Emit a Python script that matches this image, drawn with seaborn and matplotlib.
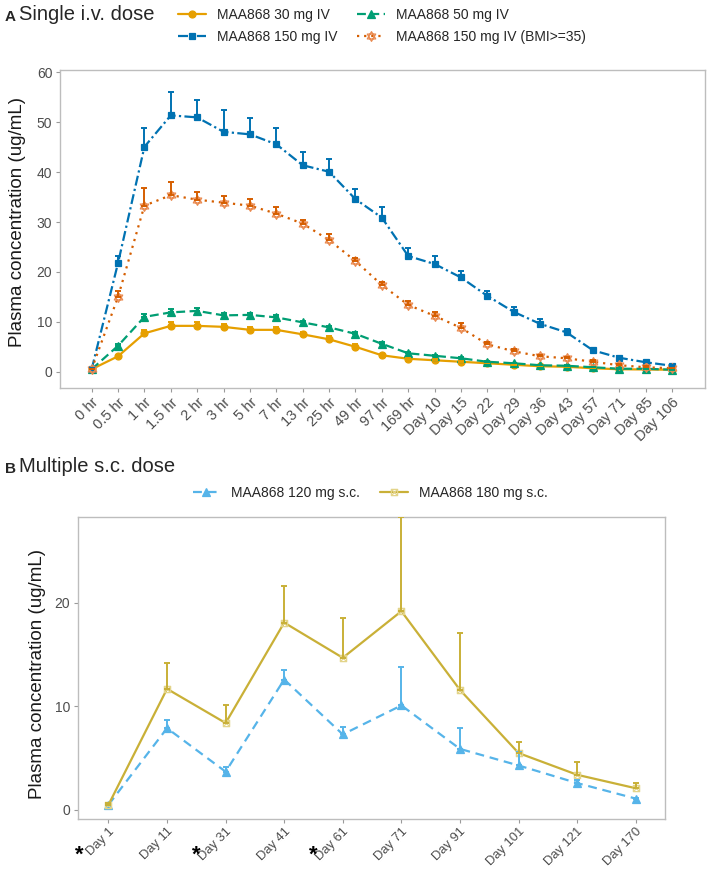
import numpy as np
import pandas as pd
import matplotlib
matplotlib.use("Agg")
import matplotlib.pyplot as plt
from matplotlib.path import Path
from matplotlib.lines import Line2D
import seaborn as sns

# ---- data: panel A (single i.v. dose) ----
times_a = ['0 hr', '0.5 hr', '1 hr', '1.5 hr', '2 hr', '3 hr', '5 hr', '7 hr',
           '13 hr', '25 hr', '49 hr', '97 hr', '169 hr', 'Day 10', 'Day 15',
           'Day 22', 'Day 29', 'Day 36', 'Day 43', 'Day 57', 'Day 71',
           'Day 85', 'Day 106']
iv30_mean = [0.5, 3.1, 7.7, 9.2, 9.2, 9.0, 8.4, 8.4, 7.5, 6.5, 5.0, 3.3, 2.6,
             2.3, 2.0, 1.7, 1.4, 1.1, 1.0, 0.7, 0.5, 0.45, 0.4]
iv30_sd = [0.1, 0.3, 0.7, 0.7, 0.7, 0.6, 0.6, 0.6, 0.5, 0.6, 0.5, 0.3, 0.2,
           0.2, 0.2, 0.2, 0.1, 0.1, 0.1, 0.1, 0.1, 0.1, 0.1]
iv50_mean = [0.5, 5.2, 11.0, 11.9, 12.2, 11.3, 11.4, 10.9, 9.9, 8.9, 7.6, 5.6,
             3.7, 3.2, 2.7, 2.0, 1.7, 1.3, 1.2, 0.9, 0.6, 0.6, 0.4]
iv50_sd = [0.1, 0.4, 0.6, 0.6, 0.5, 0.5, 0.4, 0.4, 0.3, 0.3, 0.3, 0.3, 0.2,
           0.2, 0.2, 0.2, 0.1, 0.1, 0.1, 0.1, 0.1, 0.1, 0.1]
iv150_mean = [0.5, 21.8, 45.1, 51.4, 51.0, 48.1, 47.6, 45.6, 41.4, 40.1, 34.6,
              30.9, 23.2, 21.6, 18.9, 15.2, 12.0, 9.6, 7.9, 4.3, 2.8, 1.9, 1.2]
iv150_sd = [0.2, 1.4, 3.8, 4.7, 3.4, 4.3, 3.2, 3.3, 2.7, 2.5, 2.0, 2.2, 1.7,
            1.6, 1.3, 1.0, 0.9, 1.0, 0.7, 0.4, 0.3, 0.2, 0.2]
bmi_mean = [0.5, 15.0, 33.3, 35.4, 34.5, 33.9, 33.3, 31.7, 29.7, 26.4, 22.2,
            17.4, 13.4, 11.2, 8.8, 5.5, 4.1, 3.1, 2.7, 2.0, 1.3, 0.9, 0.7]
bmi_sd = [0.1, 1.2, 3.5, 2.7, 1.5, 1.3, 1.4, 1.4, 0.8, 1.3, 0.7, 0.6, 0.8,
          0.7, 0.9, 0.5, 0.4, 0.3, 0.3, 0.3, 0.2, 0.2, 0.1]
groups_a = ['MAA868 30 mg IV', 'MAA868 50 mg IV', 'MAA868 150 mg IV',
            'MAA868 150 mg IV (BMI>=35)']

# ---- data: panel B (multiple s.c. dose) ----
days_b = ['Day 1', 'Day 11', 'Day 31', 'Day 41', 'Day 61', 'Day 71', 'Day 91',
          'Day 101', 'Day 121', 'Day 170']
dose_days = ['Day 1', 'Day 31', 'Day 61']
sc120_mean = [0.5, 7.9, 3.7, 12.6, 7.3, 10.1, 5.9, 4.3, 2.6, 1.1]
sc120_sd = [0.1, 0.8, 0.5, 0.9, 0.7, 3.7, 2.0, 1.3, 0.3, 0.1]
sc180_mean = [0.5, 11.7, 8.4, 18.1, 14.7, 19.2, 11.6, 5.5, 3.4, 2.1]
sc180_sd = [0.2, 2.5, 1.7, 3.5, 3.8, 9.1, 5.5, 1.1, 1.2, 0.5]
groups_b = ['MAA868 120 mg s.c.', 'MAA868 180 mg s.c.']


def long_df(labels, groups, means, sds):
    rows = []
    for g, m, s in zip(groups, means, sds):
        for i, (mv, sv) in enumerate(zip(m, s)):
            rows.append({'idx': i, 'label': labels[i], 'group': g,
                         'conc': mv, 'sd': sv})
    return pd.DataFrame(rows)


df_a = long_df(times_a, groups_a, [iv30_mean, iv50_mean, iv150_mean, bmi_mean],
               [iv30_sd, iv50_sd, iv150_sd, bmi_sd])
df_b = long_df(days_b, groups_b, [sc120_mean, sc180_mean], [sc120_sd, sc180_sd])

# custom open markers (hexagram, boxed cross)
tri_up = np.array([[0, 1], [-0.866, -0.5], [0.866, -0.5], [0, 1]])
tri_dn = np.array([[0, -1], [0.866, 0.5], [-0.866, 0.5], [0, -1]])
hexagram = Path.make_compound_path(Path(tri_up, closed=True),
                                   Path(tri_dn, closed=True))
box_x = Path([(-1, -1), (1, -1), (1, 1), (-1, 1), (-1, -1),
              (-1, -1), (1, 1), (-1, 1), (1, -1)],
             [Path.MOVETO, Path.LINETO, Path.LINETO, Path.LINETO, Path.CLOSEPOLY,
              Path.MOVETO, Path.LINETO, Path.MOVETO, Path.LINETO])

styles = {
    'MAA868 30 mg IV': dict(color='#E69F00', ls='-', marker='o', ms=5,
                            mfc='#E69F00', mec='#E69F00'),
    'MAA868 50 mg IV': dict(color='#009E73', ls=(0, (4, 2)), marker='^', ms=5.5,
                            mfc='#009E73', mec='#009E73'),
    'MAA868 150 mg IV': dict(color='#0072B2', ls=(0, (4.5, 1.5, 1, 1.5)),
                             marker='s', ms=4.5, mfc='#0072B2', mec='#0072B2'),
    'MAA868 150 mg IV (BMI>=35)': dict(color='#D55E00', ls=(0, (1, 2.2)),
                                       marker=hexagram, ms=7, mfc='none',
                                       mec='#E98A50'),
    'MAA868 120 mg s.c.': dict(color='#56B4E9', ls=(0, (4, 2.6)), marker='^',
                               ms=5.5, mfc='#56B4E9', mec='#56B4E9'),
    'MAA868 180 mg s.c.': dict(color='#C9B037', ls='-', marker=box_x, ms=4.5,
                               mfc='none', mec='#E3D48A'),
}

sns.set_style('ticks')
plt.rcParams['font.family'] = ['Liberation Sans', 'DejaVu Sans']

fig = plt.figure(figsize=(7.09, 8.69), dpi=100)
W, H = 709, 869
axA = fig.add_axes([60 / W, 1 - 387.7 / H, 645 / W, 317.7 / H])
axB = fig.add_axes([78 / W, 1 - 819.3 / H, 587 / W, 302.3 / H])


def draw_panel(ax, df, groups):
    for g in groups:
        st = styles[g]
        sub = df[df['group'] == g]
        sns.lineplot(data=sub, x='idx', y='conc', ax=ax, color=st['color'],
                     linestyle=st['ls'], linewidth=1.6, errorbar=None,
                     marker=st['marker'], markersize=st['ms'],
                     markerfacecolor=st['mfc'], markeredgecolor=st['mec'],
                     markeredgewidth=0.9, zorder=2)
        ax.errorbar(sub['idx'], sub['conc'],
                    yerr=[np.zeros(len(sub)), sub['sd']], fmt='none',
                    ecolor=st['color'], elinewidth=1.4, capsize=2.3,
                    capthick=1.4, zorder=3)


def style_axis(ax, labels, fs):
    ax.set_xticks(range(len(labels)))
    ax.set_xticklabels(labels, rotation=45, ha='right', rotation_mode='anchor',
                       fontsize=fs, color='#4D4D4D')
    ax.tick_params(axis='y', labelsize=10, labelcolor='#4D4D4D')
    ax.tick_params(axis='both', length=3, width=0.8, color='#9A9A9A', pad=2.5)
    for sp in ax.spines.values():
        sp.set_color('#BDBDBD')
        sp.set_linewidth(1.0)
    ax.set_xlabel('')
    ax.set_ylabel('Plasma concentration (ug/mL)', fontsize=13.5, color='#1A1A1A')
    ax.grid(False)


draw_panel(axA, df_a, groups_a)
style_axis(axA, times_a, 10.5)
axA.set_xlim(-1.2, len(times_a) - 1 + 1.25)
axA.set_ylim(-3.2, 60.5)
axA.set_yticks([0, 10, 20, 30, 40, 50, 60])
axA.yaxis.set_label_coords(-0.052, 0.52)

draw_panel(axB, df_b, groups_b)
style_axis(axB, days_b, 9.3)
axB.tick_params(axis='x', pad=1.5)
axB.set_xlim(-0.52, len(days_b) - 1 + 0.5)
axB.set_ylim(-0.9, 28.3)
axB.set_yticks([0, 10, 20])
axB.yaxis.set_label_coords(-0.054, 0.48)

# dosing day asterisks
for d in dose_days:
    axB.annotate('*', xy=(days_b.index(d), 0), xycoords=('data', 'axes fraction'),
                 xytext=(-21, -26), textcoords='offset points', ha='center',
                 va='center', fontsize=16, fontweight='bold', color='black')


def handle(g):
    st = styles[g]
    return Line2D([], [], color=st['color'], linestyle=st['ls'], linewidth=1.6,
                  marker=st['marker'], markersize=st['ms'],
                  markerfacecolor=st['mfc'], markeredgecolor=st['mec'],
                  markeredgewidth=0.9)


order_a = ['MAA868 30 mg IV', 'MAA868 150 mg IV', 'MAA868 50 mg IV',
           'MAA868 150 mg IV (BMI>=35)']
fig.legend([handle(g) for g in order_a], order_a, ncol=2, loc='center',
           bbox_to_anchor=(382 / W, 1 - 26 / H), frameon=False, fontsize=10,
           handlelength=2, handletextpad=0.8, columnspacing=1.4,
           labelspacing=0.55)
fig.legend([handle(g) for g in groups_b], groups_b, ncol=2, loc='center',
           bbox_to_anchor=(370 / W, 1 - 493 / H), frameon=False, fontsize=10,
           handlelength=2, handletextpad=0.8, columnspacing=1.4)

# panel titles
fig.text(5 / W, 1 - 17 / H, 'A', fontsize=11, fontweight='bold', va='center')
fig.text(19 / W, 1 - 15 / H, 'Single i.v. dose', fontsize=14.5, va='center')
fig.text(5 / W, 1 - 469 / H, 'B', fontsize=11, fontweight='bold', va='center')
fig.text(19 / W, 1 - 467 / H, 'Multiple s.c. dose', fontsize=14.5, va='center')

fig.savefig('out.png', dpi=100)
